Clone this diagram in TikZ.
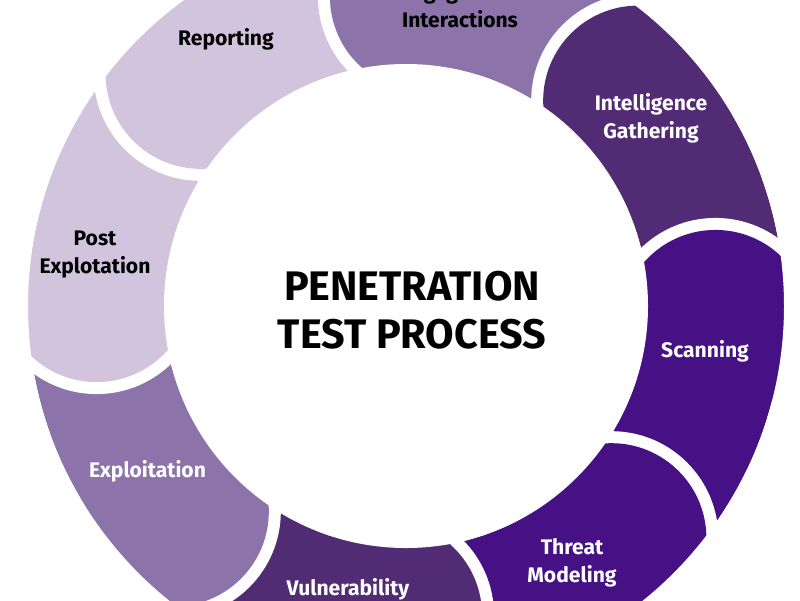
\documentclass[tikz,border=0pt]{standalone}
\usepackage{fontspec}
\setmainfont{Fira Sans}
\usepackage{xcolor}
\usepackage{tikz}

\definecolor{ringlight}{HTML}{D3C4DD}
\definecolor{ringmid}{HTML}{8C74AA}
\definecolor{ringdark}{HTML}{512B73}
\definecolor{ringdeep}{HTML}{461185}

% one piece of the ring between two angles
\newcommand{\ringpiece}[3]{%
    \fill[#1] (#2:378) arc[start angle=#2, end angle=#3, radius=378]
        -- (#3:242) arc[start angle=#3, end angle=#2, radius=242] -- cycle;}
% rounded head of a piece, cut into the piece before it
\newcommand{\ringcap}[2]{%
    \fill[white] (#2:310) circle (107);
    \fill[#1] (#2:310) circle (95);
    \ringpiece{#1}{#2}{#2-22}}

\begin{document}
\begin{tikzpicture}[
    x=0.02cm, y=0.02cm,
    label/.style={
        font=\fontsize{12}{15.9}\selectfont\bfseries,
        align=center,
        anchor=base,
        inner sep=0pt
    },
    lightlabel/.style={label, text=black},
    darklabel/.style={label, text=white},
    title/.style={
        font=\fontsize{23.5}{27.2}\selectfont\bfseries,
        align=center,
        anchor=base,
        inner sep=0pt
    }
]
\useasboundingbox (-406,-294) rectangle (394,306);
\clip (-406,-294) rectangle (394,306);

% Ring pieces
\ringpiece{ringmid}{99}{54}
\ringpiece{ringdark}{54}{9}
\ringpiece{ringdeep}{9}{-36}
\ringpiece{ringdeep}{-36}{-81}
\ringpiece{ringdark}{-81}{-126}
\ringpiece{ringmid}{-126}{-171}
\ringpiece{ringlight}{-171}{-216}
\ringpiece{ringlight}{-216}{-261}

% Rounded heads
\ringcap{ringmid}{86.5}
\ringcap{ringdark}{41.5}
\ringcap{ringdeep}{-3.5}
\ringcap{ringdeep}{-48.5}
\ringcap{ringdark}{-93.5}
\ringcap{ringmid}{-138.5}
\ringcap{ringlight}{-183.5}
\ringcap{ringlight}{-228.5}

% Trim inside and outside of the ring
\fill[white] (0,0) circle (242);
\fill[white, even odd rule] (0,0) circle (378) (0,0) circle (560);

% Labels (base = last line)
\node[lightlabel] (engage) at (54, 279) {Engagement\\Interactions};
\node[darklabel] (intel) at (245, 168) {Intelligence\\Gathering};
\node[darklabel] (scan) at (299, -51) {Scanning};
\node[darklabel] (threat) at (166, -276) {Threat\\Modeling};
\node[darklabel] (vuln) at (-58, -289) {Vulnerability};
\node[darklabel] (exploit) at (-258.5, -171) {Exploitation};
\node[lightlabel] (post) at (-311, 33) {Post\\Explotation};
\node[lightlabel] (report) at (-180, 261) {Reporting};

% Title
\node[title] (title) at (6, -42) {PENETRATION\\TEST PROCESS};

\end{tikzpicture}
\end{document}
